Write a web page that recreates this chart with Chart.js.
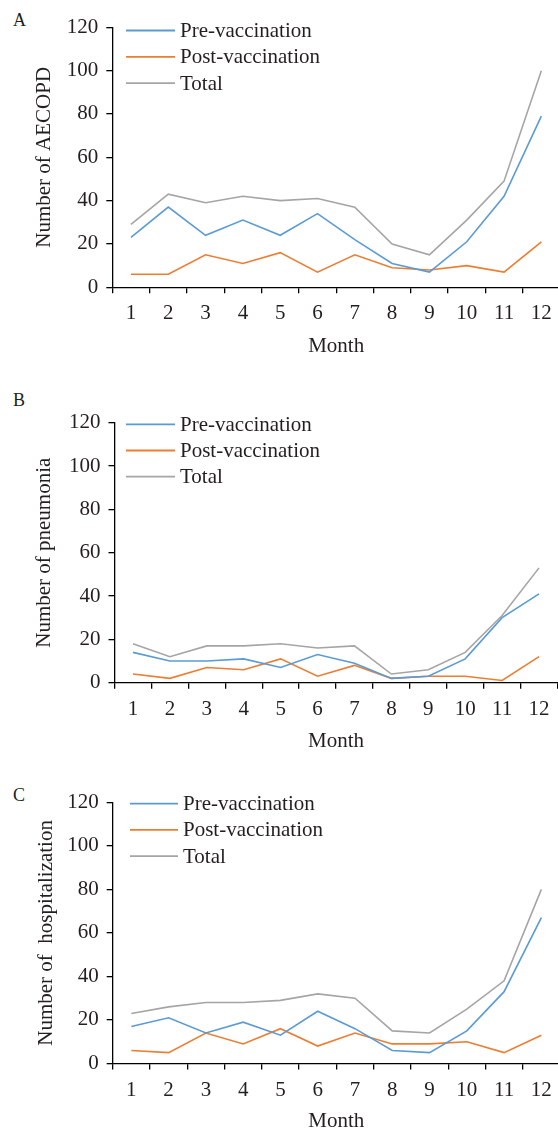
<!DOCTYPE html>
<html>
<head>
<meta charset="utf-8">
<script src="https://cdn.jsdelivr.net/npm/chart.js@4.4.1/dist/chart.umd.min.js"></script>
<style>
  html, body { margin: 0; padding: 0; background: #fff; width: 558px; height: 1130px; overflow: hidden; }
  .panel { position: absolute; left: 0; width: 562px; }
  .letter { position: absolute; left: 13px; font: 18px "Liberation Serif", serif; color: #231f20; line-height: 18px; }
</style>
</head>
<body>
<div class="letter" style="top:11px">A</div>
<div class="letter" style="top:391px">B</div>
<div class="letter" style="top:786px">C</div>
<div class="panel" style="top:0;height:380px"><canvas id="chartA"></canvas></div>
<div class="panel" style="top:380px;height:390px"><canvas id="chartB"></canvas></div>
<div class="panel" style="top:770px;height:370px"><canvas id="chartC"></canvas></div>
<script>
const months = ["1", "2", "3", "4", "5", "6", "7", "8", "9", "10", "11", "12"];
const seriesNames = ["Pre-vaccination", "Post-vaccination", "Total"];

// A - AECOPD
const aecopdPre = [23, 37, 24, 31, 24, 34, 22, 11, 7, 21, 42, 79];
const aecopdPost = [6, 6, 15, 11, 16, 7, 15, 9, 8, 10, 7, 21];
const aecopdTotal = [29, 43, 39, 42, 40, 41, 37, 20, 15, 31, 49, 100];

// B - pneumonia
const pneuPre = [14, 10, 10, 11, 7, 13, 9, 2, 3, 11, 30, 41];
const pneuPost = [4, 2, 7, 6, 11, 3, 8, 2, 3, 3, 1, 12];
const pneuTotal = [18, 12, 17, 17, 18, 16, 17, 4, 6, 14, 31, 53];

// C - hospitalization
const hospPre = [17, 21, 14, 19, 13, 24, 16, 6, 5, 15, 33, 67];
const hospPost = [6, 5, 14, 9, 16, 8, 14, 9, 9, 10, 5, 13];
const hospTotal = [23, 26, 28, 28, 29, 32, 30, 15, 14, 25, 38, 80];

const yMin = 0, yMax = 120, yStep = 20;

const colors = ["#5b9bd5", "#ed7d31", "#a5a5a5"];
const textColor = "#231f20";
const fontFamily = '"Liberation Serif", "Times New Roman", serif';

// legend drawn inside the plot, one row per series
const insideLegend = {
  id: "insideLegend",
  afterDraw(chart, args, opts) {
    const ctx = chart.ctx;
    ctx.save();
    ctx.font = "21px " + fontFamily;
    ctx.fillStyle = textColor;
    ctx.textBaseline = "middle";
    ctx.textAlign = "left";
    chart.data.datasets.forEach((ds, i) => {
      const y = opts.y + i * opts.gap;
      ctx.strokeStyle = ds.borderColor;
      ctx.lineWidth = 1.8;
      ctx.beginPath();
      ctx.moveTo(opts.x1, y);
      ctx.lineTo(opts.x2, y);
      ctx.stroke();
      ctx.fillText(ds.label, opts.tx, y + 1);
    });
    ctx.restore();
  }
};

function makeChart(id, values, yTitle, lay) {
  const ctx = document.getElementById(id).getContext("2d");
  return new Chart(ctx, {
    type: "line",
    data: {
      labels: months,
      datasets: values.map((v, i) => ({
        label: seriesNames[i],
        data: v,
        borderColor: colors[i],
        backgroundColor: colors[i],
        borderWidth: 1.6,
        pointRadius: 0,
        tension: 0,
        fill: false
      }))
    },
    options: {
      responsive: true,
      maintainAspectRatio: false,
      animation: false,
      layout: { padding: { top: lay.top, right: lay.right, bottom: 0, left: 0 } },
      plugins: {
        legend: { display: false },
        tooltip: { enabled: false },
        insideLegend: lay.legend
      },
      scales: {
        x: {
          offset: true,
          grid: { display: true, offset: true, drawOnChartArea: false, drawTicks: true, tickLength: 6, color: "#000", lineWidth: 1.3 },
          border: { display: true, color: "#000", width: 1.3 },
          ticks: { color: textColor, font: { family: fontFamily, size: 21 }, padding: 8, maxRotation: 0, autoSkip: false },
          title: { display: true, text: "Month", color: textColor, font: { family: fontFamily, size: 21 }, padding: { top: 0, bottom: lay.titleBottom } },
          afterFit(scale) { scale.height = lay.xHeight; }
        },
        y: {
          min: yMin,
          max: yMax,
          ticks: { stepSize: yStep, color: textColor, font: { family: fontFamily, size: 21 }, padding: 8 },
          grid: { display: true, drawOnChartArea: false, drawTicks: true, tickLength: 6, color: "#000", lineWidth: 1.3 },
          border: { display: true, color: "#000", width: 1.3 },
          title: { display: true, text: yTitle, color: textColor, font: { family: fontFamily, size: 21 }, padding: { top: lay.titleLeft, bottom: 0 } },
          afterFit(scale) { scale.width = lay.yWidth; }
        }
      }
    },
    plugins: [insideLegend]
  });
}

makeChart("chartA", [aecopdPre, aecopdPost, aecopdTotal], "Number of AECOPD", {
  top: 27.3, right: 2, yWidth: 112.3, xHeight: 92.7, titleBottom: 21.4, titleLeft: 32,
  legend: { x1: 126, x2: 175, tx: 180, y: 30.5, gap: 26.3 }
});

makeChart("chartB", [pneuPre, pneuPost, pneuTotal], "Number of pneumonia", {
  top: 42.7, right: 4.5, yWidth: 114.5, xHeight: 87.3, titleBottom: 16, titleLeft: 32,
  legend: { x1: 126, x2: 175, tx: 180, y: 44.3, gap: 26.2 }
});

makeChart("chartC", [hospPre, hospPost, hospTotal], "Number of  hospitalization", {
  top: 32.3, right: 2, yWidth: 112.7, xHeight: 76.5, titleBottom: 5.7, titleLeft: 34,
  legend: { x1: 130, x2: 178, tx: 183, y: 33.7, gap: 26.2 }
});
</script>
</body>
</html>
